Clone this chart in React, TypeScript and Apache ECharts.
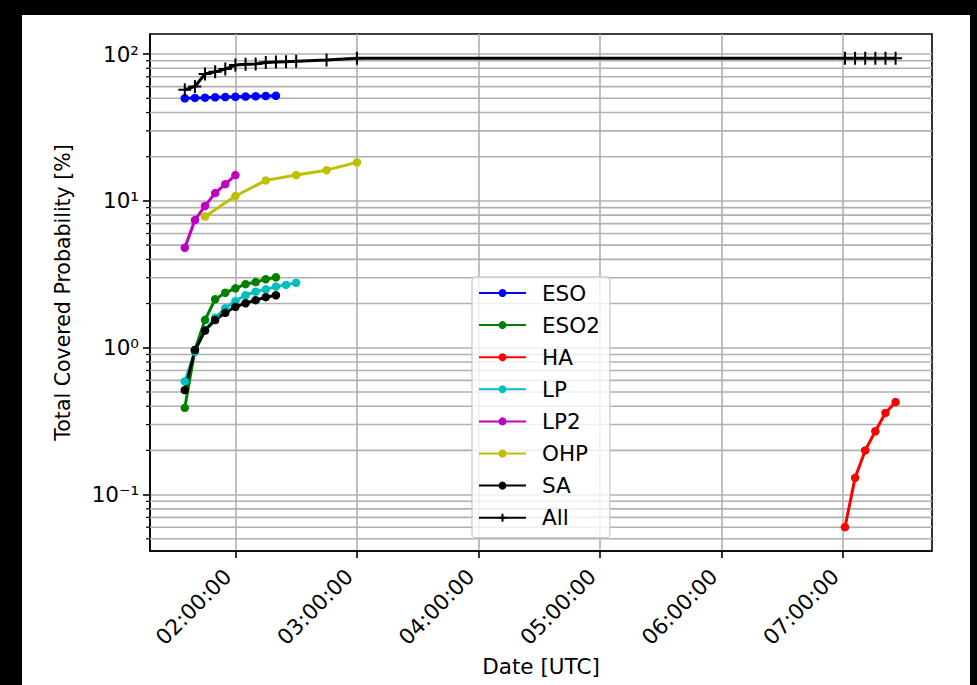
import React, { useEffect, useRef } from 'react';
import * as echarts from 'echarts';

// ---- data (times in UTC, values in %) ----
const ESO_TIMES = ['01:35', '01:40', '01:45', '01:50', '01:55', '02:00', '02:05', '02:10', '02:15', '02:20'];
const ESO_VALUES = [50.0, 50.3, 50.5, 50.8, 51.0, 51.2, 51.4, 51.6, 51.8, 52.0];

const ESO2_TIMES = ['01:35', '01:40', '01:45', '01:50', '01:55', '02:00', '02:05', '02:10', '02:15', '02:20'];
const ESO2_VALUES = [0.39, 0.965, 1.55, 2.14, 2.37, 2.54, 2.71, 2.8, 2.93, 3.02];

const HA_TIMES = ['07:01', '07:06', '07:11', '07:16', '07:21', '07:26'];
const HA_VALUES = [0.06, 0.13, 0.2, 0.27, 0.36, 0.427];

const LP_TIMES = ['01:35', '01:40', '01:45', '01:50', '01:55', '02:00', '02:05', '02:10', '02:15', '02:20', '02:25', '02:30'];
const LP_VALUES = [0.59, 0.94, 1.32, 1.6, 1.86, 2.08, 2.28, 2.41, 2.5, 2.61, 2.68, 2.77];

const LP2_TIMES = ['01:35', '01:40', '01:45', '01:50', '01:55', '02:00'];
const LP2_VALUES = [4.8, 7.4, 9.25, 11.3, 13.0, 15.0];

const OHP_TIMES = ['01:45', '02:00', '02:15', '02:30', '02:45', '03:00'];
const OHP_VALUES = [7.83, 10.8, 13.8, 15.0, 16.2, 18.3];

const SA_TIMES = ['01:35', '01:40', '01:45', '01:50', '01:55', '02:00', '02:05', '02:10', '02:15', '02:20'];
const SA_VALUES = [0.515, 0.965, 1.31, 1.545, 1.73, 1.9, 2.01, 2.11, 2.21, 2.28];

const ALL_TIMES = ['01:35', '01:40', '01:45', '01:50', '01:55', '02:00', '02:05', '02:10', '02:15', '02:20', '02:25', '02:30', '02:45', '03:00',
  '07:01', '07:06', '07:11', '07:16', '07:21', '07:26'];
const ALL_VALUES = [57.1, 60.2, 73.1, 75.7, 79.1, 84.1, 85.1, 85.5, 87.7, 88.2, 88.6, 89.2, 91.0, 93.5,
  93.5, 93.5, 93.6, 93.6, 93.6, 93.7];

const X_TICK_HOURS = [2, 3, 4, 5, 6, 7];
const Y_MAJOR = [0.1, 1, 10, 100];
const Y_MINOR = [0.05, 0.06, 0.07, 0.08, 0.09, 0.2, 0.3, 0.4, 0.5, 0.6, 0.7, 0.8, 0.9,
  2, 3, 4, 5, 6, 7, 8, 9, 20, 30, 40, 50, 60, 70, 80, 90];

const X_MIN = 1.297;
const X_MAX = 7.733;
const Y_MIN = 0.0413;
const Y_MAX = 137;

const toHours = (t: string) => {
  const [h, m] = t.split(':').map(Number);
  return h + m / 60;
};

const SUP: Record<string, string> = { '-': '\u207B', '0': '\u2070', '1': '\u00B9', '2': '\u00B2', '3': '\u00B3' };

const FONT = 'DejaVu Sans';
const FS = 21.5;
const GRID_COLOR = '#b0b0b0';

export default function App() {
  const ref = useRef<HTMLDivElement>(null);

  useEffect(() => {
    if (!ref.current) return;
    const chart = echarts.init(ref.current, undefined, { renderer: 'svg' });

    const mk = (name: string, times: string[], vals: number[], color: string) => ({
      type: 'line',
      name,
      data: times.map((t, i) => [toHours(t), vals[i]]),
      symbol: 'circle',
      symbolSize: 8.5,
      showSymbol: true,
      lineStyle: { color, width: 3 },
      itemStyle: { color },
      emphasis: { disabled: true },
      z: 3,
    });

    const option: any = {
      animation: false,
      backgroundColor: '#ffffff',
      textStyle: { fontFamily: FONT },
      grid: {
        left: 128,
        top: 19,
        right: 38,
        bottom: 134,
        show: true,
        borderColor: '#000',
        borderWidth: 1.6,
        containLabel: false,
      },
      legend: {
        data: ['ESO', 'ESO2', 'HA', 'LP', 'LP2', 'OHP', 'SA', 'All'],
        orient: 'vertical',
        left: 450,
        top: 262,
        padding: [5, 10, 9, 6],
        itemWidth: 47,
        itemHeight: 10,
        itemGap: 10.1,
        backgroundColor: 'rgba(255,255,255,0.8)',
        borderColor: '#cccccc',
        borderWidth: 1.3,
        borderRadius: 4,
        selectedMode: false,
        textStyle: { fontFamily: FONT, fontSize: FS, color: '#000', padding: [0, 0, 0, 11] },
      },
      xAxis: {
        type: 'value',
        min: X_MIN,
        max: X_MAX,
        name: 'Date [UTC]',
        nameLocation: 'middle',
        nameGap: 104,
        nameTextStyle: { fontFamily: FONT, fontSize: FS, color: '#000' },
        axisLine: { show: true, onZero: false, lineStyle: { color: '#000', width: 1.6 } },
        axisTick: { show: true, length: 7, lineStyle: { color: '#000', width: 1.6 }, customValues: X_TICK_HOURS },
        axisLabel: {
          customValues: X_TICK_HOURS,
          rotate: 45,
          margin: 14,
          padding: [0, 11, 0, 0],
          fontFamily: FONT,
          fontSize: FS,
          color: '#000',
          formatter: (v: number) => {
            const r = Math.round(v);
            if (Math.abs(v - r) > 1e-6) return '';
            return (r < 10 ? '0' : '') + r + ':00:00';
          },
        },
        splitLine: { show: true, lineStyle: { color: GRID_COLOR, width: 1.6 } },
      },
      yAxis: {
        type: 'log',
        logBase: 10,
        min: Y_MIN,
        max: Y_MAX,
        name: 'Total Covered Probability [%]',
        nameLocation: 'middle',
        nameGap: 77,
        nameTextStyle: { fontFamily: FONT, fontSize: 20.5, color: '#000' },
        axisLine: { show: true, lineStyle: { color: '#000', width: 1.6 } },
        axisTick: { show: true, length: 7, lineStyle: { color: '#000', width: 1.6 }, customValues: Y_MAJOR },
        axisLabel: {
          customValues: Y_MAJOR,
          margin: 11,
          fontFamily: FONT,
          fontSize: FS,
          color: '#000',
          formatter: (v: number) => {
            const e = Math.log10(v);
            const r = Math.round(e);
            if (Math.abs(e - r) > 1e-6) return '';
            return '10' + String(r).split('').map((c) => SUP[c] || c).join('');
          },
        },
        splitLine: { show: true, lineStyle: { color: GRID_COLOR, width: 1.6 } },
      },
      series: [
        {
          type: 'custom',
          name: 'minor',
          silent: true,
          z: 1,
          clip: false,
          data: Y_MINOR.map((v) => [X_MIN, v]),
          renderItem: (params: any, api: any) => {
            const p = api.coord([api.value(0), api.value(1)]);
            const cs = params.coordSys;
            return {
              type: 'group',
              children: [
                { type: 'line', shape: { x1: cs.x, y1: p[1], x2: cs.x + cs.width, y2: p[1] }, style: { stroke: GRID_COLOR, lineWidth: 1.6 } },
                { type: 'line', shape: { x1: cs.x - 4, y1: p[1], x2: cs.x, y2: p[1] }, style: { stroke: '#000', lineWidth: 1.2 } },
              ],
            };
          },
        },
        mk('ESO', ESO_TIMES, ESO_VALUES, '#0000ff'),
        mk('ESO2', ESO2_TIMES, ESO2_VALUES, '#008000'),
        mk('HA', HA_TIMES, HA_VALUES, '#ff0000'),
        mk('LP', LP_TIMES, LP_VALUES, '#00bfbf'),
        mk('LP2', LP2_TIMES, LP2_VALUES, '#bf00bf'),
        mk('OHP', OHP_TIMES, OHP_VALUES, '#bfbf00'),
        mk('SA', SA_TIMES, SA_VALUES, '#000000'),
        {
          type: 'line',
          name: 'All',
          data: ALL_TIMES.map((t, i) => [toHours(t), ALL_VALUES[i]]),
          symbol: 'path://M6,0L6,12M0,6L12,6',
          symbolSize: 13,
          showSymbol: true,
          lineStyle: { color: '#000', width: 3 },
          itemStyle: { color: '#000', borderColor: '#000', borderWidth: 2 },
          emphasis: { disabled: true },
          z: 4,
        },
      ],
    };

    chart.setOption(option);
    return () => chart.dispose();
  }, []);

  return (
    <div style={{ position: 'fixed', left: 0, top: 0, width: 977, height: 685, background: '#000' }}>
      <div ref={ref} style={{ position: 'absolute', left: 22, top: 15, width: 948, height: 670 }} />
    </div>
  );
}
